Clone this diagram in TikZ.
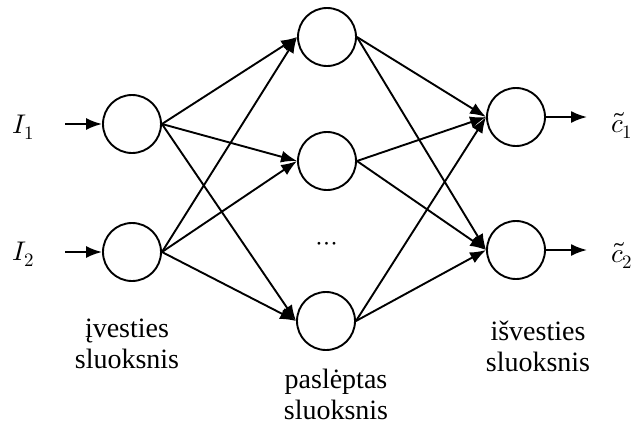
\documentclass[tikz,border=0pt]{standalone}
\usepackage{fontspec}
\usepackage{unicode-math}
\setmainfont{Liberation Serif}
\setmathfont{Latin Modern Math}
\usetikzlibrary{arrows.meta, positioning}

\tikzset{
  neuron/.style={circle, draw, line width=1.9pt, minimum size=58pt, inner sep=0pt},
  conn/.style={line width=1.9pt, -{Latex[length=16pt,width=12pt]}},
  layername/.style={align=center, inner sep=0pt, font=\rmfamily\fontsize{28}{31}\selectfont},
  inlabel/.style={inner sep=0pt, font=\fontsize{27}{27}\selectfont}
}

\begin{document}
\begin{tikzpicture}[x=1pt, y=-1pt]
                        \useasboundingbox (0,0) rectangle (632,426);
                        % ivesties sluoksnis
                        \node[neuron] (i1) at (132, 124) {};
                        \node[neuron] (i2) at (132, 252) {};
                        % pasleptas sluoksnis
                        \node[neuron] (h1) at (327, 37) {};
                        \node[neuron] (h2) at (327, 161) {};
                        \node[neuron] (h3) at (326, 321) {};
                        % isvesties sluoksnis
                        \node[neuron] (o1) at (516, 117) {};
                        \node[neuron] (o2) at (516, 250) {};
                        \node[inlabel] (dots) at (327, 246) {$\cdots$};
                        \coordinate (x1) at (65, 124);
                        \coordinate (x2) at (65, 252);
                        \coordinate (y1) at (587, 117);
                        \coordinate (y2) at (587, 250);
                        \node[inlabel, anchor=base west] (I1) at (12, 133) {$I_1$};
                        \node[inlabel, anchor=base west] (I2) at (12, 260) {$I_2$};
                        \node[inlabel, anchor=base west] (c1) at (611, 132) {$\tilde{c}_1$};
                        \node[inlabel, anchor=base west] (c2) at (611, 262) {$\tilde{c}_2$};
                        \node[layername] (lin) at (127, 344) {įvesties\\sluoksnis};
                        \node[layername] (lhid) at (336, 394) {paslėptas\\sluoksnis};
                        \node[layername] (lout) at (538, 346) {išvesties\\sluoksnis};
                        \draw
                        (x1) edge[conn] (i1.west)
                        (x2) edge[conn] (i2.west)
                        (o1.east) edge[conn] (y1)
                        (o2.east) edge[conn] (y2)
                        (i1.east) edge[conn] (h1.west)
                        (i1.east) edge[conn] (h2.west)
                        (i1.east) edge[conn] (h3.west)
                        (i2.east) edge[conn] (h1.west)
                        (i2.east) edge[conn] (h2.west)
                        (i2.east) edge[conn] (h3.west)
                        (h1.east) edge[conn] (o1.west)
                        (h1.east) edge[conn] (o2.west)
                        (h2.east) edge[conn] (o1.west)
                        (h2.east) edge[conn] (o2.west)
                        (h3.east) edge[conn] (o1.west)
                        (h3.east) edge[conn] (o2.west);
                    \end{tikzpicture}
\end{document}
